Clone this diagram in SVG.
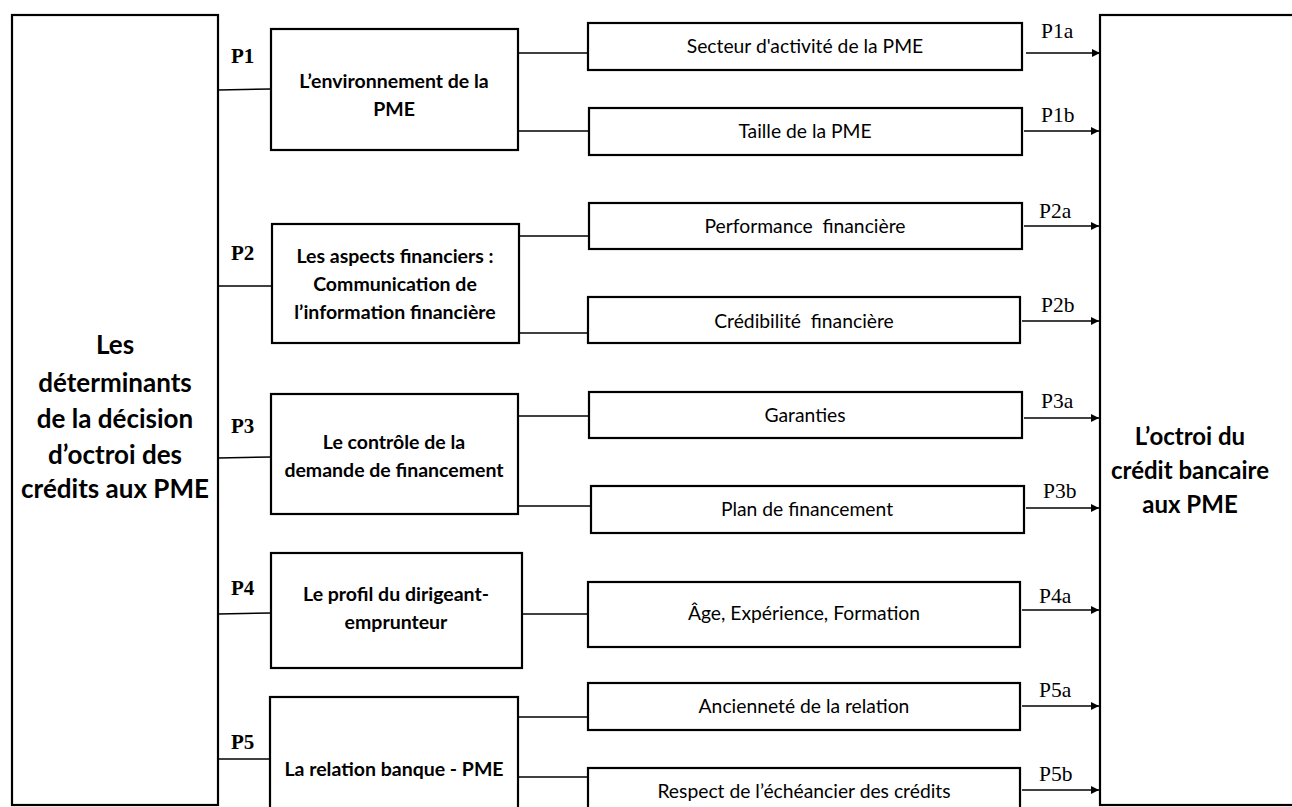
<svg xmlns="http://www.w3.org/2000/svg" width="1292" height="807" viewBox="0 0 1292 807">
<style>
.box{fill:#fff;stroke:#000;stroke-width:2.2}
.ln{stroke:#000;stroke-width:1.4;fill:none}
.big{font-family:Lato,"Open Sans",sans-serif;font-weight:bold;font-size:26px;text-anchor:middle}
.bigr{font-family:Lato,"Open Sans",sans-serif;font-weight:bold;font-size:24px;text-anchor:middle}
.mid{font-family:Lato,"Open Sans",sans-serif;font-weight:bold;font-size:19.5px;text-anchor:middle}
.sub{font-family:Lato,"Open Sans",sans-serif;font-size:19.3px;text-anchor:middle;white-space:pre}
.pl{font-family:"Liberation Serif",serif;font-weight:bold;font-size:21px}
.pr{font-family:"Liberation Serif",serif;font-size:21.5px}
</style>
<defs>
<marker id="ah" markerWidth="8" markerHeight="8" refX="8" refY="4" orient="auto" markerUnits="userSpaceOnUse">
<path d="M0,0 L8,4 L0,8 Z" fill="#000"/>
</marker>
</defs>
<g id="connectors">
<line class="ln" x1="218" y1="90" x2="271" y2="89"/>
<line class="ln" x1="218" y1="286" x2="272" y2="286"/>
<line class="ln" x1="218" y1="458" x2="271" y2="457"/>
<line class="ln" x1="218" y1="614" x2="271" y2="613"/>
<line class="ln" x1="218" y1="759" x2="270" y2="759"/>
<line class="ln" x1="518" y1="53" x2="588" y2="53"/>
<line class="ln" x1="518" y1="131" x2="589" y2="131"/>
<line class="ln" x1="519" y1="236" x2="589" y2="236"/>
<line class="ln" x1="519" y1="333" x2="588" y2="333"/>
<line class="ln" x1="518" y1="416" x2="589" y2="416"/>
<line class="ln" x1="518" y1="506" x2="591" y2="506"/>
<line class="ln" x1="522" y1="614" x2="588" y2="614"/>
<line class="ln" x1="518" y1="717" x2="588" y2="717"/>
<line class="ln" x1="518" y1="777" x2="588" y2="777"/>
<line class="ln" x1="1026" y1="53" x2="1100" y2="53" marker-end="url(#ah)"/>
<line class="ln" x1="1024" y1="131" x2="1099" y2="131" marker-end="url(#ah)"/>
<line class="ln" x1="1024" y1="226" x2="1099" y2="226" marker-end="url(#ah)"/>
<line class="ln" x1="1022" y1="321" x2="1099" y2="321" marker-end="url(#ah)"/>
<line class="ln" x1="1024" y1="418" x2="1099" y2="418" marker-end="url(#ah)"/>
<line class="ln" x1="1026" y1="508" x2="1099" y2="508" marker-end="url(#ah)"/>
<line class="ln" x1="1022" y1="610" x2="1099" y2="610" marker-end="url(#ah)"/>
<line class="ln" x1="1022" y1="706" x2="1099" y2="706" marker-end="url(#ah)"/>
<line class="ln" x1="1022" y1="790" x2="1099" y2="790" marker-end="url(#ah)"/>
</g>
<g id="left">
<rect class="box" x="12" y="15" width="206" height="790"/>
<text class="big" x="115" y="354">Les</text>
<text class="big" x="115" y="392">déterminants</text>
<text class="big" x="115" y="428">de la décision</text>
<text class="big" x="115" y="464">d’octroi des</text>
<text class="big" x="115" y="498">crédits aux PME</text>
</g>
<g id="right">
<rect class="box" x="1100" y="15" width="220" height="790"/>
<text class="bigr" x="1190" y="445">L’octroi du</text>
<text class="bigr" x="1190" y="479">crédit bancaire</text>
<text class="bigr" x="1190" y="513">aux PME</text>
</g>
<g id="p1">
<rect class="box" x="271" y="29" width="247" height="121"/>
<text class="mid" x="394" y="88">L’environnement de la</text>
<text class="mid" x="394" y="116">PME</text>
</g>
<g id="p2">
<rect class="box" x="272" y="224" width="247" height="119"/>
<text class="mid" x="395" y="263">Les aspects financiers :</text>
<text class="mid" x="395" y="291">Communication de</text>
<text class="mid" x="395" y="319">l’information financière</text>
</g>
<g id="p3">
<rect class="box" x="271" y="394" width="247" height="120"/>
<text class="mid" x="394" y="449">Le contrôle de la</text>
<text class="mid" x="394" y="477">demande de financement</text>
</g>
<g id="p4">
<rect class="box" x="271" y="553" width="251" height="115"/>
<text class="mid" x="396" y="601">Le profil du dirigeant-</text>
<text class="mid" x="396" y="629">emprunteur</text>
</g>
<g id="p5">
<rect class="box" x="270" y="697" width="248" height="130"/>
<text class="mid" x="394" y="776">La relation banque - PME</text>
</g>
<g id="s1a"><rect class="box" x="588" y="23" width="434" height="47"/><text class="sub" x="805" y="53">Secteur d'activité de la PME</text></g>
<g id="s1b"><rect class="box" x="589" y="108" width="433" height="47"/><text class="sub" x="805" y="138">Taille de la PME</text></g>
<g id="s2a"><rect class="box" x="589" y="203" width="433" height="46"/><text class="sub" x="805" y="233">Performance  financière</text></g>
<g id="s2b"><rect class="box" x="588" y="297" width="432" height="46"/><text class="sub" x="804" y="328">Crédibilité  financière</text></g>
<g id="s3a"><rect class="box" x="589" y="392" width="433" height="46"/><text class="sub" x="805" y="422">Garanties</text></g>
<g id="s3b"><rect class="box" x="591" y="486" width="433" height="47"/><text class="sub" x="807" y="516">Plan de financement</text></g>
<g id="s4a"><rect class="box" x="588" y="582" width="432" height="65"/><text class="sub" x="804" y="620">Âge, Expérience, Formation</text></g>
<g id="s5a"><rect class="box" x="588" y="683" width="432" height="47"/><text class="sub" x="804" y="713">Ancienneté de la relation</text></g>
<g id="s5b"><rect class="box" x="588" y="768" width="432" height="60"/><text class="sub" x="804" y="798">Respect de l’échéancier des crédits</text></g>
<g id="labels">
<text class="pl" x="231" y="63">P1</text>
<text class="pl" x="231" y="260">P2</text>
<text class="pl" x="231" y="433">P3</text>
<text class="pl" x="231" y="595">P4</text>
<text class="pl" x="231" y="749">P5</text>
<text class="pr" x="1041" y="38">P1a</text>
<text class="pr" x="1041" y="122">P1b</text>
<text class="pr" x="1039" y="218">P2a</text>
<text class="pr" x="1041" y="312">P2b</text>
<text class="pr" x="1041" y="408">P3a</text>
<text class="pr" x="1043" y="498">P3b</text>
<text class="pr" x="1039" y="603">P4a</text>
<text class="pr" x="1039" y="697">P5a</text>
<text class="pr" x="1039" y="781">P5b</text>
</g>
</svg>
